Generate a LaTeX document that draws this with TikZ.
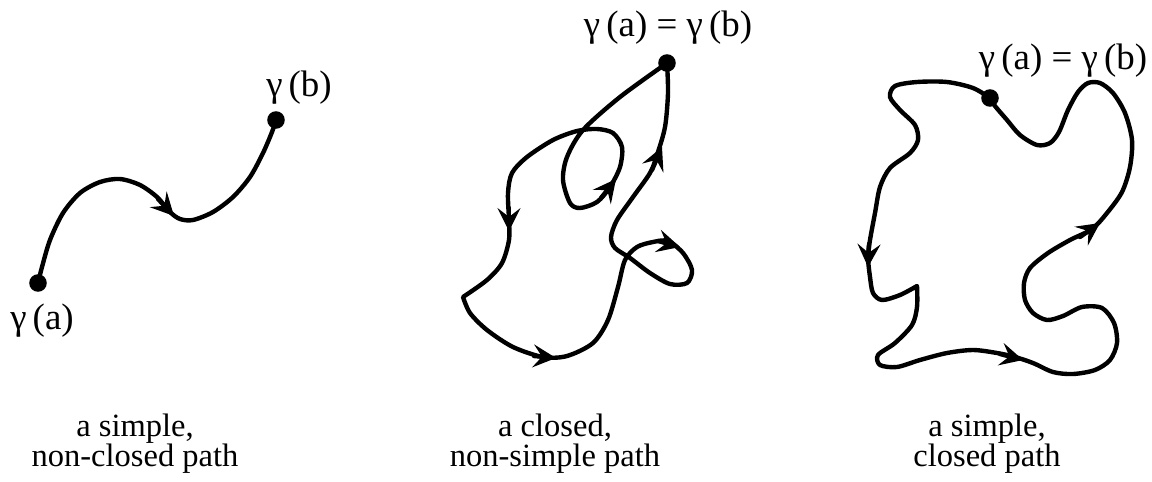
\documentclass[tikz,border=0pt]{standalone}
\usepackage{fontspec}
\setmainfont{Liberation Serif}
\usetikzlibrary{arrows.meta}
\tikzset{
  >=Stealth,
  curve/.style={line width=2.5pt,line join=round,line cap=round},
  tip/.style={curve,-{Stealth[length=13pt,width=13pt,inset=5pt]}},
  dot/.style={circle,fill=black,inner sep=0pt,minimum size=10pt},
  tag/.style={font=\fontsize{21}{21}\selectfont,anchor=base,inner sep=0pt},
  note/.style={font=\fontsize{18.5}{17}\selectfont,align=center,anchor=base,inner sep=0pt},
}

\begin{document}
\begin{tikzpicture}[x=0.02cm,y=-0.02cm]
\useasboundingbox (0,0) rectangle (1152,481);
% simple, non-closed
\draw[curve] plot[smooth] coordinates {(38,283) (42,267) (50,240) (63,213) (80,193) (100,182)
  (120,179) (140,185) (157,197) (170,212) (180,219) (193,220) (213,212) (233,197) (250,177)
  (263,153) (272,132) (276,120)};
\draw[tip] (158,199) -- (174,216);
\node[dot] (pa) at (38,283) {};
\node[dot] (pb) at (276,120) {};
\node[tag] (la) at (42,329) {γ\,(a)};
\node[tag] (lb) at (299,96) {γ\,(b)};
\node[note] (na) at (135,466) {a simple,\\non-closed path};
% closed, non-simple
\draw[curve] plot[smooth] coordinates {(667,63) (620,97) (583,130) (567,157) (563,180) (570,203)
  (580,208) (597,202) (610,187) (620,167) (622,147) (613,133) (597,129) (577,131) (553,140)
  (527,157) (512,173) (508,193) (509,220) (509,240) (502,263) (487,280) (463,297)}
  -- plot[smooth] coordinates {(463,297) (470,313) (487,330) (513,347) (543,357) (567,356)
  (593,343) (608,320) (618,287) (625,260) (637,247) (653,242) (668,241) (683,253) (692,270)
  (687,283) (670,284) (650,273) (630,258) (615,248) (611,237) (617,220) (633,197) (650,173)
  (657,155) (665,127) (668,93) (667,63)};
\draw[tip] (601,198) -- (616,179);
\draw[tip] (509,208) -- (509,231);
\draw[tip] (534,356) -- (556,358);
\draw[tip] (658,241) -- (680,247);
\draw[tip] (652,170) -- (662,147);
\node[dot] (pc) at (667,63) {};
\node[tag] (lc) at (668,36) {γ\,(a) = γ\,(b)};
\node[note] (nc) at (555,466) {a closed,\\non-simple path};
% simple, closed
\draw[curve] plot[smooth] coordinates {(990,98) (973,88) (947,82) (917,82) (895,86) (890,97)
  (900,110) (915,125) (918,140) (910,153) (890,168) (880,187) (875,213) (870,240) (868,257)
  (870,277) (873,293) (882,300) (900,295) (917,286)}
  -- plot[smooth] coordinates {(917,286) (917,307) (912,325) (895,343) (878,355) (880,365)
  (897,367) (920,360) (947,353) (973,350) (997,353) (1015,357) (1033,363) (1053,372)
  (1073,374) (1095,370) (1110,360) (1117,343) (1114,323) (1102,308) (1082,307) (1063,316)
  (1047,320) (1033,313) (1025,300) (1024,283) (1030,268) (1048,253) (1070,240) (1092,229)
  (1107,213) (1122,192) (1130,167) (1132,140) (1125,113) (1113,93) (1100,83) (1088,83)
  (1078,92) (1068,110) (1059,132) (1050,143) (1037,145) (1020,135) (1007,120) (995,106)
  (990,98)};
\draw[tip] (869,244) -- (868,267);
\draw[tip] (1000,354) -- (1023,360);
\draw[tip] (1080,237) -- (1100,223);
\node[dot] (pd) at (990,98) {};
\node[tag] (ld) at (1063,69) {γ\,(a) = γ\,(b)};
\node[note] (nd) at (987,466) {a simple,\\closed path};
\end{tikzpicture}
\end{document}
